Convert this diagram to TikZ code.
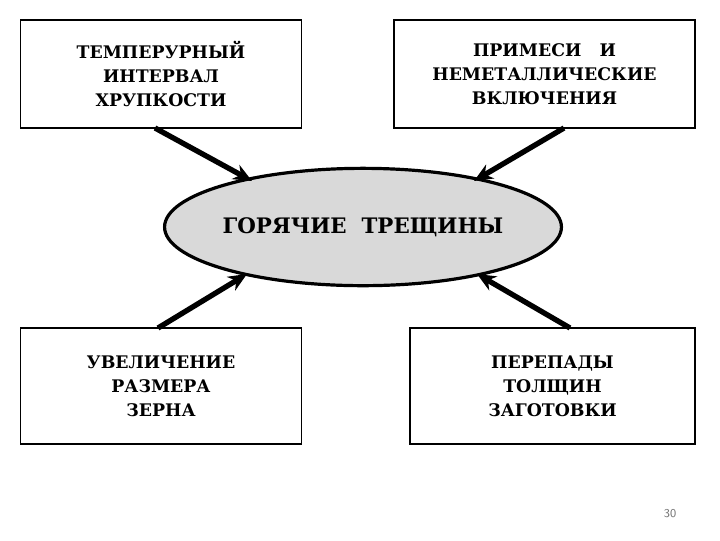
\documentclass[tikz,border=0pt]{standalone}
\usepackage{fontspec}
\setmainfont{DejaVu Serif}
\usetikzlibrary{arrows.meta,shapes.geometric}
\begin{document}
\begin{tikzpicture}[x=0.75pt,y=-0.75pt,
  box/.style={draw,line width=1.2pt,minimum width=#1,minimum height=81pt,align=center,font=\rmfamily\bfseries\fontsize{13}{18}\selectfont},
  arr/.style={line width=4pt,-{Stealth[length=14pt,width=12pt]}}]
\useasboundingbox[fill=white] (0,0) rectangle (720,540);
\node[box=211pt] (tl) at (161,74) {ТЕМПЕРУРНЫЙ\\ИНТЕРВАЛ\\ХРУПКОСТИ};
\node[box=226pt] (tr) at (544.5,74) {ПРИМЕСИ \ \ И\\НЕМЕТАЛЛИЧЕСКИЕ\\ВКЛЮЧЕНИЯ};
\node[box=211pt,minimum height=87pt] (bl) at (161,386) {УВЕЛИЧЕНИЕ\\РАЗМЕРА\\ЗЕРНА};
\node[box=214pt,minimum height=87pt] (br) at (552.5,386) {ПЕРЕПАДЫ\\ТОЛЩИН\\ЗАГОТОВКИ};
\node[draw,ellipse,line width=2.4pt,fill=black!15,minimum width=283pt,minimum height=88pt,inner sep=0pt,font=\rmfamily\bfseries\fontsize{16}{21}\selectfont] (e) at (363,227) {ГОРЯЧИЕ \ ТРЕЩИНЫ};
\coordinate (a1) at (155,128); \coordinate (a2) at (564,128);
\coordinate (a3) at (158,328); \coordinate (a4) at (570,328);
\draw[arr] (a1) -- (252,181);
\draw[arr] (a2) -- (474,181);
\draw[arr] (a3) -- (247,274);
\draw[arr] (a4) -- (477,274);
\node[text=black!55,font=\sffamily\fontsize{9}{10}\selectfont] (pg) at (670,514) {30};
\end{tikzpicture}
\end{document}
